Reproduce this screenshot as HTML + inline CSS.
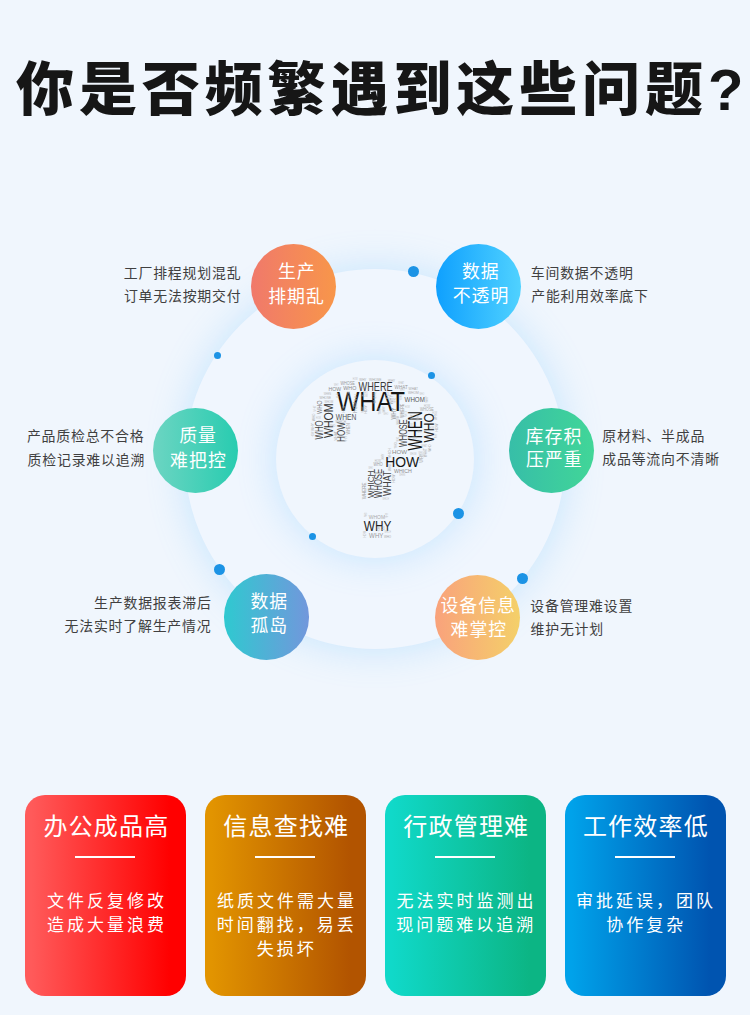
<!DOCTYPE html>
<html lang="zh-CN">
<head>
<meta charset="utf-8">
<title>你是否频繁遇到这些问题?</title>
<style>
html,body{margin:0;padding:0}
body{width:750px;height:1015px;position:relative;overflow:hidden;background:#f0f6fd;font-family:"Liberation Sans","Noto Sans CJK SC",sans-serif}
.ring{position:absolute;border-radius:50%}
.r1{left:185px;top:269px;width:380px;height:380px;background:#f0f6fe;box-shadow:0 0 38px rgba(95,190,255,.30)}
.r2{left:276px;top:360px;width:198px;height:198px;background:#f0f6fd;box-shadow:0 0 38px rgba(95,190,255,.30)}
.b{position:absolute;width:85.2px;height:85.2px;border-radius:50%}
.d{position:absolute;display:block;border-radius:50%;background:#1c93e5}
.c{position:absolute;top:795px;width:160.5px;height:200.5px;border-radius:20px}
.u{position:absolute;left:50px;top:61px;width:60px;height:2.4px;background:#fff}
#g{position:absolute;left:0;top:0}
.t{position:absolute;margin:0;color:#404040;white-space:nowrap;line-height:1;font-weight:normal;overflow:visible;font-family:"Liberation Sans","Noto Sans CJK SC",sans-serif}
.b .t,.c .t{color:#fff}
h1.t{color:#161616;font-weight:900}
#g text{font-family:"Liberation Sans Narrow","Liberation Sans",sans-serif}
</style>
</head>
<body>
<h1 class="t" style="left:16.0px;top:60.6px;font-size:58px;letter-spacing:4.9px">你是否频繁遇到这些问题?</h1>
<section class="diagram">
<div class="ring r1"></div>
<div class="ring r2"></div>
<i class="d" style="left:408.0px;top:266.4px;width:11.0px;height:11.0px"></i>
<i class="d" style="left:213.6px;top:351.5px;width:7.0px;height:7.0px"></i>
<i class="d" style="left:427.6px;top:371.6px;width:7.4px;height:7.4px"></i>
<i class="d" style="left:453.2px;top:508.2px;width:11.0px;height:11.0px"></i>
<i class="d" style="left:308.8px;top:532.8px;width:7.2px;height:7.2px"></i>
<i class="d" style="left:213.9px;top:564.1px;width:11.2px;height:11.2px"></i>
<i class="d" style="left:516.8px;top:573.1px;width:11.2px;height:11.2px"></i>
<div class="b" style="left:251.3px;top:244.0px;background:linear-gradient(90deg,#f0796b,#f8964a)"><span class="t" style="left:26.6px;top:20.4px;font-size:17.9px;letter-spacing:1.0px">生产</span><span class="t" style="left:16.9px;top:44.6px;font-size:17.9px;letter-spacing:1.0px">排期乱</span></div>
<p class="t" style="left:123.8px;top:266.5px;font-size:13.9px;letter-spacing:0.8px">工厂排程规划混乱</p>
<p class="t" style="left:123.9px;top:289.6px;font-size:13.9px;letter-spacing:0.8px">订单无法按期交付</p>
<div class="b" style="left:435.9px;top:244.0px;background:linear-gradient(90deg,#0fa0fe,#50d2ff)"><span class="t" style="left:26.0px;top:20.4px;font-size:17.9px;letter-spacing:1.0px">数据</span><span class="t" style="left:16.8px;top:44.4px;font-size:17.9px;letter-spacing:1.0px">不透明</span></div>
<p class="t" style="left:530.8px;top:266.5px;font-size:13.9px;letter-spacing:0.8px">车间数据不透明</p>
<p class="t" style="left:531.2px;top:289.5px;font-size:13.9px;letter-spacing:0.8px">产能利用效率底下</p>
<div class="b" style="left:152.8px;top:408.3px;background:linear-gradient(90deg,#6cd5c2,#28ccb0)"><span class="t" style="left:26.4px;top:20.2px;font-size:17.9px;letter-spacing:1.0px">质量</span><span class="t" style="left:17.3px;top:44.4px;font-size:17.9px;letter-spacing:1.0px">难把控</span></div>
<p class="t" style="left:26.9px;top:430.4px;font-size:13.9px;letter-spacing:0.8px">产品质检总不合格</p>
<p class="t" style="left:27.6px;top:453.5px;font-size:13.9px;letter-spacing:0.8px">质检记录难以追溯</p>
<div class="b" style="left:508.8px;top:408.3px;background:linear-gradient(90deg,#37bea8,#41d698)"><span class="t" style="left:16.8px;top:20.3px;font-size:17.9px;letter-spacing:1.0px">库存积</span><span class="t" style="left:17.1px;top:44.2px;font-size:17.9px;letter-spacing:1.0px">压严重</span></div>
<p class="t" style="left:602.3px;top:430.3px;font-size:13.9px;letter-spacing:0.8px">原材料、半成品</p>
<p class="t" style="left:602.3px;top:453.4px;font-size:13.9px;letter-spacing:0.8px">成品等流向不清晰</p>
<div class="b" style="left:224.0px;top:574.4px;background:linear-gradient(90deg,#2fc9d0,#7297dc)"><span class="t" style="left:26.4px;top:20.0px;font-size:17.9px;letter-spacing:1.0px">数据</span><span class="t" style="left:26.4px;top:43.9px;font-size:17.9px;letter-spacing:1.0px">孤岛</span></div>
<p class="t" style="left:94.1px;top:596.5px;font-size:13.9px;letter-spacing:0.8px">生产数据报表滞后</p>
<p class="t" style="left:64.5px;top:619.6px;font-size:13.9px;letter-spacing:0.8px">无法实时了解生产情况</p>
<div class="b" style="left:434.8px;top:574.7px;background:linear-gradient(90deg,#f9a27c,#f4d069)"><span class="t" style="left:5.6px;top:23.7px;font-size:17.9px;letter-spacing:1.0px">设备信息</span><span class="t" style="left:15.7px;top:47.6px;font-size:17.9px;letter-spacing:1.0px">难掌控</span></div>
<p class="t" style="left:530.3px;top:600.2px;font-size:13.9px;letter-spacing:0.8px">设备管理难设置</p>
<p class="t" style="left:530.5px;top:623.3px;font-size:13.9px;letter-spacing:0.8px">维护无计划</p>
</section>
<section class="cards">
<article class="c" style="left:25px;background:linear-gradient(90deg,#ff5a5a 4%,#ff0000 90%)"><h2 class="t" style="left:18.4px;top:20.3px;font-size:24px;letter-spacing:1.2px">办公成品高</h2><div class="u"></div><p class="t" style="left:21.9px;top:98.2px;font-size:17px;letter-spacing:3.0px">文件反复修改</p><p class="t" style="left:22.0px;top:122.1px;font-size:17px;letter-spacing:3.0px">造成大量浪费</p></article>
<article class="c" style="left:205px;background:linear-gradient(90deg,#e29400 4%,#b25400 90%)"><h2 class="t" style="left:18.3px;top:20.4px;font-size:24px;letter-spacing:1.2px">信息查找难</h2><div class="u"></div><p class="t" style="left:12.0px;top:98.2px;font-size:17px;letter-spacing:3.0px">纸质文件需大量</p><p class="t" style="left:11.8px;top:122.1px;font-size:17px;letter-spacing:3.0px">时间翻找，易丢</p><p class="t" style="left:51.7px;top:145.8px;font-size:17px;letter-spacing:3.0px">失损坏</p></article>
<article class="c" style="left:385px;background:linear-gradient(90deg,#10d9c9 4%,#0cb584 90%)"><h2 class="t" style="left:18.3px;top:20.3px;font-size:24px;letter-spacing:1.2px">行政管理难</h2><div class="u"></div><p class="t" style="left:11.6px;top:98.2px;font-size:17px;letter-spacing:3.0px">无法实时监测出</p><p class="t" style="left:11.3px;top:122.1px;font-size:17px;letter-spacing:3.0px">现问题难以追溯</p></article>
<article class="c" style="left:565px;background:linear-gradient(90deg,#00a2ea 4%,#0054b0 90%)"><h2 class="t" style="left:17.9px;top:20.3px;font-size:24px;letter-spacing:1.2px">工作效率低</h2><div class="u"></div><p class="t" style="left:10.9px;top:98.2px;font-size:17px;letter-spacing:3.0px">审批延误，团队</p><p class="t" style="left:41.3px;top:122.1px;font-size:17px;letter-spacing:3.0px">协作复杂</p></article>
</section>
<svg id="g" width="750" height="1015" viewBox="0 0 7500 10150">
<g fill="#161616">
<text x="3370" y="4114" font-size="270" textLength="680" lengthAdjust="spacingAndGlyphs">WHAT</text>
<text transform="translate(4217,4504) rotate(-90)" font-size="200" textLength="391" lengthAdjust="spacingAndGlyphs">WHEN</text>
<text x="3852" y="4671" font-size="154" textLength="340" lengthAdjust="spacingAndGlyphs">HOW</text>
</g>
<g fill="#3a3a3a">
<text x="3586" y="3909" font-size="123" textLength="341" lengthAdjust="spacingAndGlyphs">WHERE</text>
<text transform="translate(3822,4979) rotate(-90)" font-size="100" textLength="290" lengthAdjust="spacingAndGlyphs">WHOSE</text>
</g>
<g fill="#333333">
<text transform="translate(3328,4381) rotate(-90)" font-size="124" textLength="347" lengthAdjust="spacingAndGlyphs">WHOM</text>
</g>
<g fill="#222222">
<text transform="translate(4336,4425) rotate(-90)" font-size="151" textLength="292" lengthAdjust="spacingAndGlyphs">WHO</text>
</g>
<g fill="#262626">
<text x="3638" y="5306" font-size="150" textLength="276" lengthAdjust="spacingAndGlyphs">WHY</text>
</g>
<g fill="#444444">
<text transform="translate(3226,4394) rotate(-90)" font-size="100" textLength="190" lengthAdjust="spacingAndGlyphs">WHO</text>
<text transform="translate(3450,4419) rotate(-90)" font-size="100" textLength="197" lengthAdjust="spacingAndGlyphs">HOW</text>
<text transform="translate(4066,4470) rotate(-90)" font-size="100" textLength="275" lengthAdjust="spacingAndGlyphs">WHOSE</text>
<text transform="translate(3737,4979) rotate(-90)" font-size="94" textLength="273" lengthAdjust="spacingAndGlyphs">WHICH</text>
<text transform="translate(3914,4961) rotate(-90)" font-size="105" textLength="255" lengthAdjust="spacingAndGlyphs">WHAT</text>
</g>
<g fill="#555555">
<text x="4046" y="4020" font-size="81" textLength="202" lengthAdjust="spacingAndGlyphs">WHOM</text>
<text x="3358" y="4195" font-size="84" textLength="205" lengthAdjust="spacingAndGlyphs">WHEN</text>
</g>
<g fill="#7d7d7d">
<text transform="translate(3219,4139) rotate(-90)" font-size="74" textLength="134" lengthAdjust="spacingAndGlyphs">WHO</text>
</g>
<g fill="#8a8a8a">
<text x="3433" y="3904" font-size="61" textLength="130" lengthAdjust="spacingAndGlyphs">WHO</text>
<text x="3920" y="4542" font-size="60" textLength="150" lengthAdjust="spacingAndGlyphs">HOW</text>
<text x="3940" y="4729" font-size="61" textLength="178" lengthAdjust="spacingAndGlyphs">WHICH</text>
</g>
<g fill="#8c8c8c">
<text x="3285" y="3912" font-size="61" textLength="126" lengthAdjust="spacingAndGlyphs">HOW</text>
<text transform="translate(3958,4195) rotate(-90)" font-size="64" textLength="120" lengthAdjust="spacingAndGlyphs">WHY</text>
</g>
<g fill="#9a9a9a">
<text x="3405" y="3848" font-size="50" textLength="142" lengthAdjust="spacingAndGlyphs">WHOSE</text>
<text x="3736" y="4663" font-size="50" textLength="90" lengthAdjust="spacingAndGlyphs">WHO</text>
<text transform="translate(4038,4177) rotate(-90)" font-size="50" textLength="141" lengthAdjust="spacingAndGlyphs">WHERE</text>
<text transform="translate(3931,4044) rotate(-90)" font-size="51" textLength="95" lengthAdjust="spacingAndGlyphs">WHY</text>
<text transform="translate(3570,4128) rotate(-90)" font-size="49" textLength="108" lengthAdjust="spacingAndGlyphs">HOW</text>
<text x="3946" y="3887" font-size="57" textLength="131" lengthAdjust="spacingAndGlyphs">WHAT</text>
<text transform="translate(3663,4993) rotate(-90)" font-size="58" textLength="167" lengthAdjust="spacingAndGlyphs">WHERE</text>
<text x="3691" y="5378" font-size="71" textLength="143" lengthAdjust="spacingAndGlyphs">WHY</text>
</g>
<g fill="#a8a8a8">
<text x="3196" y="3989" font-size="39" textLength="114" lengthAdjust="spacingAndGlyphs">WHOSE</text>
<text transform="translate(4382,4318) rotate(-90)" font-size="40" textLength="83" lengthAdjust="spacingAndGlyphs">HOW</text>
<text transform="translate(3760,4034) rotate(-90)" font-size="42" textLength="114" lengthAdjust="spacingAndGlyphs">WHERE</text>
<text transform="translate(3147,4209) rotate(-90)" font-size="40" textLength="73" lengthAdjust="spacingAndGlyphs">WHO</text>
<text x="3593" y="3810" font-size="42" textLength="70" lengthAdjust="spacingAndGlyphs">WHY</text>
<text x="4086" y="3902" font-size="42" textLength="94" lengthAdjust="spacingAndGlyphs">WHAT</text>
<text x="3356" y="4234" font-size="39" textLength="103" lengthAdjust="spacingAndGlyphs">WHICH</text>
<text transform="translate(3142,4309) rotate(-90)" font-size="42" textLength="77" lengthAdjust="spacingAndGlyphs">WHY</text>
<text transform="translate(3952,4828) rotate(-90)" font-size="40" textLength="83" lengthAdjust="spacingAndGlyphs">HOW</text>
<text transform="translate(3674,4138) rotate(-90)" font-size="39" textLength="83" lengthAdjust="spacingAndGlyphs">HOW</text>
<text transform="translate(4312,4516) rotate(-90)" font-size="40" textLength="73" lengthAdjust="spacingAndGlyphs">WHO</text>
<text transform="translate(3909,4711) rotate(-90)" font-size="39" textLength="73" lengthAdjust="spacingAndGlyphs">WHO</text>
<text x="3839" y="5379" font-size="39" textLength="73" lengthAdjust="spacingAndGlyphs">WHO</text>
<text transform="translate(3907,4586) rotate(-90)" font-size="40" textLength="103" lengthAdjust="spacingAndGlyphs">WHICH</text>
<text transform="translate(3368,4406) rotate(-90)" font-size="42" textLength="93" lengthAdjust="spacingAndGlyphs">WHAT</text>
<text x="3881" y="3815" font-size="42" textLength="69" lengthAdjust="spacingAndGlyphs">WHY</text>
</g>
<g fill="#aaaaaa">
<text x="3691" y="3807" font-size="39" textLength="124" lengthAdjust="spacingAndGlyphs">WHOSE</text>
<text x="4079" y="3944" font-size="40" textLength="108" lengthAdjust="spacingAndGlyphs">WHOM</text>
<text transform="translate(3498,4346) rotate(-90)" font-size="47" textLength="114" lengthAdjust="spacingAndGlyphs">WHEN</text>
<text x="4199" y="4106" font-size="45" textLength="139" lengthAdjust="spacingAndGlyphs">WHOSE</text>
<text transform="translate(4226,4627) rotate(-90)" font-size="56" textLength="90" lengthAdjust="spacingAndGlyphs">WHY</text>
<text transform="translate(4274,4572) rotate(-90)" font-size="56" textLength="90" lengthAdjust="spacingAndGlyphs">WHAT</text>
<text x="3688" y="5185" font-size="53" textLength="163" lengthAdjust="spacingAndGlyphs">WHOM</text>
</g>
<g fill="#b4b4b4" font-size="33">
<text transform="translate(4187,4205) rotate(-90)" textLength="62" lengthAdjust="spacingAndGlyphs">WHY</text>
<text transform="translate(3847,4123) rotate(-90)" textLength="62" lengthAdjust="spacingAndGlyphs">WHY</text>
<text x="4239" y="4067" textLength="61" lengthAdjust="spacingAndGlyphs">HOW</text>
<text transform="translate(3637,4125) rotate(-90)" textLength="62" lengthAdjust="spacingAndGlyphs">WHY</text>
<text transform="translate(3987,4247) rotate(-90)" textLength="87" lengthAdjust="spacingAndGlyphs">WHOM</text>
<text transform="translate(3449,4126) rotate(-90)" textLength="66" lengthAdjust="spacingAndGlyphs">HOW</text>
<text transform="translate(4374,4200) rotate(-90)" textLength="62" lengthAdjust="spacingAndGlyphs">WHY</text>
<text x="3614" y="3969" textLength="61" lengthAdjust="spacingAndGlyphs">HOW</text>
<text x="3245" y="4027" textLength="86" lengthAdjust="spacingAndGlyphs">WHOM</text>
<text x="3747" y="4619" textLength="61" lengthAdjust="spacingAndGlyphs">HOW</text>
<text x="3296" y="4269" textLength="58" lengthAdjust="spacingAndGlyphs">WHO</text>
<text transform="translate(4280,4025) rotate(-90)" textLength="62" lengthAdjust="spacingAndGlyphs">WHY</text>
<text transform="translate(3499,3978) rotate(-90)" textLength="66" lengthAdjust="spacingAndGlyphs">HOW</text>
<text transform="translate(3974,4482) rotate(-90)" textLength="58" lengthAdjust="spacingAndGlyphs">WHO</text>
<text transform="translate(3664,5376) rotate(-90)" textLength="66" lengthAdjust="spacingAndGlyphs">HOW</text>
<text x="3237" y="3950" textLength="74" lengthAdjust="spacingAndGlyphs">WHEN</text>
<text transform="translate(3844,4598) rotate(-90)" textLength="62" lengthAdjust="spacingAndGlyphs">WHY</text>
<text transform="translate(3812,4142) rotate(-90)" textLength="58" lengthAdjust="spacingAndGlyphs">WHO</text>
</g>
<g fill="#bebebe" font-size="26">
<text x="4100" y="4554" textLength="65" lengthAdjust="spacingAndGlyphs">WHOM</text>
<text x="4212" y="4474" textLength="59" lengthAdjust="spacingAndGlyphs">WHAT</text>
<text transform="translate(4022,4004) rotate(-90)" textLength="50" lengthAdjust="spacingAndGlyphs">HOW</text>
<text x="4184" y="4537" textLength="46" lengthAdjust="spacingAndGlyphs">WHO</text>
<text x="4001" y="3914" textLength="46" lengthAdjust="spacingAndGlyphs">WHO</text>
<text x="3824" y="5004" textLength="65" lengthAdjust="spacingAndGlyphs">WHICH</text>
<text x="3340" y="3860" textLength="44" lengthAdjust="spacingAndGlyphs">WHY</text>
<text transform="translate(3674,5171) rotate(-90)" textLength="46" lengthAdjust="spacingAndGlyphs">WHO</text>
<text transform="translate(3987,4414) rotate(-90)" textLength="46" lengthAdjust="spacingAndGlyphs">WHO</text>
<text transform="translate(4067,4170) rotate(-90)" textLength="59" lengthAdjust="spacingAndGlyphs">WHEN</text>
<text x="3992" y="4760" textLength="60" lengthAdjust="spacingAndGlyphs">WHEN</text>
<text transform="translate(4367,4380) rotate(-90)" textLength="46" lengthAdjust="spacingAndGlyphs">WHY</text>
<text transform="translate(3852,5300) rotate(-90)" textLength="46" lengthAdjust="spacingAndGlyphs">WHY</text>
<text x="4051" y="4077" textLength="47" lengthAdjust="spacingAndGlyphs">HOW</text>
<text transform="translate(3394,3978) rotate(-90)" textLength="46" lengthAdjust="spacingAndGlyphs">WHY</text>
<text x="3836" y="4154" textLength="46" lengthAdjust="spacingAndGlyphs">WHO</text>
<text x="3982" y="3837" textLength="59" lengthAdjust="spacingAndGlyphs">WHAT</text>
<text x="3161" y="4187" textLength="47" lengthAdjust="spacingAndGlyphs">HOW</text>
<text x="4293" y="4294" textLength="48" lengthAdjust="spacingAndGlyphs">HOW</text>
<text x="4081" y="4262" textLength="47" lengthAdjust="spacingAndGlyphs">HOW</text>
<text x="4323" y="4137" textLength="48" lengthAdjust="spacingAndGlyphs">HOW</text>
<text x="3844" y="5332" textLength="65" lengthAdjust="spacingAndGlyphs">WHICH</text>
<text transform="translate(3887,3990) rotate(-90)" textLength="66" lengthAdjust="spacingAndGlyphs">WHOM</text>
<text transform="translate(3144,4369) rotate(-90)" textLength="50" lengthAdjust="spacingAndGlyphs">HOW</text>
<text transform="translate(3957,4024) rotate(-90)" textLength="46" lengthAdjust="spacingAndGlyphs">WHO</text>
<text x="3528" y="3804" textLength="48" lengthAdjust="spacingAndGlyphs">HOW</text>
<text transform="translate(3799,5317) rotate(-90)" textLength="50" lengthAdjust="spacingAndGlyphs">HOW</text>
<text x="4196" y="3952" textLength="46" lengthAdjust="spacingAndGlyphs">WHO</text>
<text transform="translate(3474,4418) rotate(-90)" textLength="58" lengthAdjust="spacingAndGlyphs">WHEN</text>
<text x="3631" y="3937" textLength="46" lengthAdjust="spacingAndGlyphs">WHO</text>
<text x="3684" y="4694" textLength="46" lengthAdjust="spacingAndGlyphs">WHO</text>
<text transform="translate(3877,5175) rotate(-90)" textLength="46" lengthAdjust="spacingAndGlyphs">WHY</text>
<text x="4126" y="4387" textLength="46" lengthAdjust="spacingAndGlyphs">WHO</text>
<text transform="translate(3157,4115) rotate(-90)" textLength="59" lengthAdjust="spacingAndGlyphs">WHAT</text>
<text transform="translate(4127,4199) rotate(-90)" textLength="50" lengthAdjust="spacingAndGlyphs">HOW</text>
<text x="4175" y="4330" textLength="44" lengthAdjust="spacingAndGlyphs">WHY</text>
<text transform="translate(3572,4008) rotate(-90)" textLength="65" lengthAdjust="spacingAndGlyphs">WHICH</text>
</g>
</svg>
</body>
</html>
